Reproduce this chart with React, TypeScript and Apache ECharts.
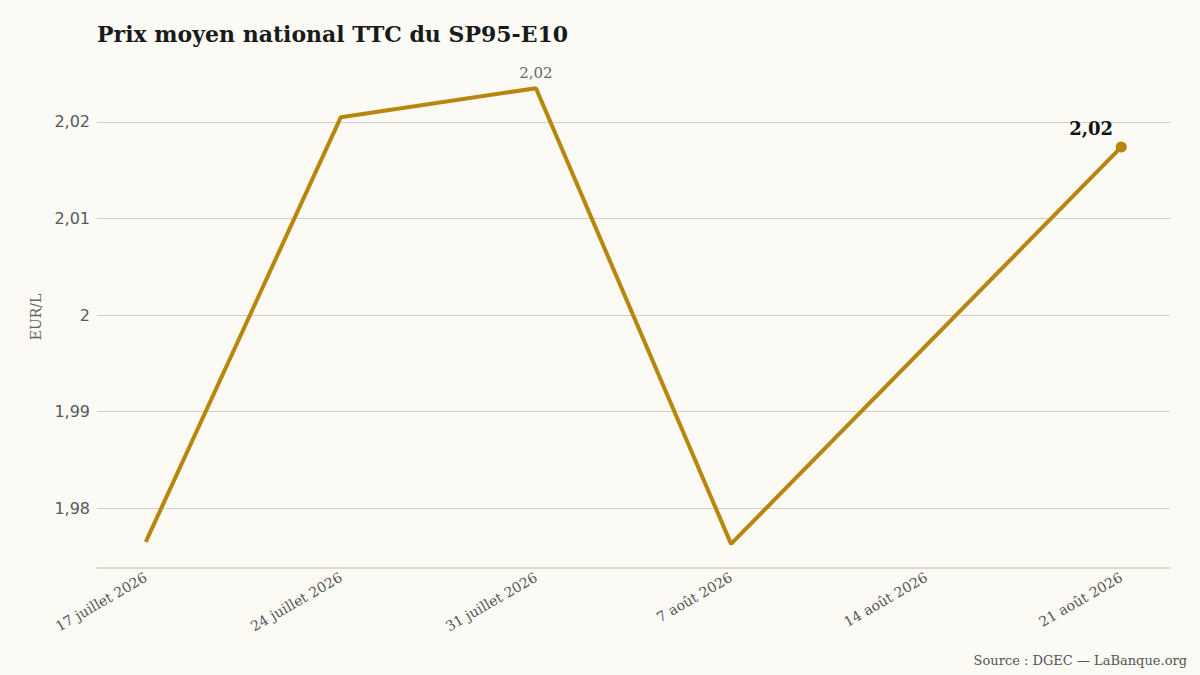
import * as echarts from "echarts";
import { useEffect, useRef } from "react";

// Prix moyen national TTC du SP95-E10 (EUR/L), relevés hebdomadaires
const DATES = ["2026-07-17", "2026-07-24", "2026-07-31", "2026-08-07", "2026-08-21"];
const PRIX = [1.9765, 2.0205, 2.0235, 1.9763, 2.0174];

const TICK_DATES = ["2026-07-17", "2026-07-24", "2026-07-31", "2026-08-07", "2026-08-14", "2026-08-21"];
const Y_TICKS = [1.98, 1.99, 2.0, 2.01, 2.02];
const MOIS = [
  "janvier", "février", "mars", "avril", "mai", "juin",
  "juillet", "août", "septembre", "octobre", "novembre", "décembre",
];

const TITRE = "Prix moyen national TTC du SP95-E10";
const SOURCE = "Source : DGEC — LaBanque.org";

const GOLD = "#b8860b";
const BG = "#fbfaf4";
const GRID = "#d3cfc3";
const SERIF = "'DejaVu Serif', 'Liberation Serif', serif";
const SANS = "'DejaVu Sans', 'Noto Sans', sans-serif";
const DAY = 86400000;

const toTime = (s: string) => {
  const [y, m, d] = s.split("-").map(Number);
  return new Date(y, m - 1, d).getTime();
};

const T0 = toTime(DATES[0]);
// x en jours depuis le premier relevé
const toDay = (s: string) => Math.round((toTime(s) - T0) / DAY);

const frNum = (v: number) => String(+v.toFixed(2)).replace(".", ",");

const frDate = (day: number) => {
  const d = new Date(T0 + Math.round(day) * DAY);
  return `${d.getDate()} ${MOIS[d.getMonth()]} ${d.getFullYear()}`;
};

export default function App() {
  const ref = useRef<HTMLDivElement>(null);

  useEffect(() => {
    const chart = echarts.init(ref.current!, null, { renderer: "svg" });

    const days = DATES.map(toDay);
    const span = days[days.length - 1] - days[0];
    const maxIdx = PRIX.indexOf(Math.max(...PRIX));
    const last = PRIX.length - 1;

    const data = PRIX.map((v, i) => {
      const item: any = { value: [days[i], v] };
      if (i === maxIdx) {
        item.label = {
          show: true,
          position: "top",
          distance: 8,
          fontFamily: SERIF,
          fontSize: 15,
          color: "#666",
          formatter: () => frNum(v),
        };
      }
      if (i === last) {
        item.symbolSize = 11;
        item.label = {
          show: true,
          position: "top",
          distance: 4,
          offset: [-30, 0],
          fontFamily: SERIF,
          fontSize: 18,
          fontWeight: "bold",
          color: "#111",
          formatter: () => frNum(v),
        };
      }
      return item;
    });

    chart.setOption({
      animation: false,
      backgroundColor: BG,
      title: {
        text: TITRE,
        left: 97,
        top: 23,
        padding: 0,
        textStyle: {
          fontFamily: SERIF,
          fontWeight: "bold",
          fontSize: 22,
          color: "#1a1a1a",
        },
      },
      grid: { left: 97, right: 30, top: 66, bottom: 107 },
      xAxis: {
        type: "value",
        min: days[0] - span * 0.05,
        max: days[days.length - 1] + span * 0.05,
        axisLine: { show: true, lineStyle: { color: GRID, width: 1.5 } },
        axisTick: { show: false, customValues: TICK_DATES.map(toDay) },
        splitLine: { show: false },
        axisLabel: {
          customValues: TICK_DATES.map(toDay),
          formatter: (v: number) => frDate(v),
          rotate: 30,
          margin: 8,
          fontFamily: SERIF,
          fontSize: 14,
          color: "#555",
          hideOverlap: false,
        },
      },
      yAxis: {
        type: "value",
        min: 1.9738,
        max: 2.0258,
        name: "EUR/L",
        nameLocation: "middle",
        nameRotate: 90,
        nameGap: 53,
        nameTextStyle: { fontFamily: SERIF, fontSize: 14, color: "#666" },
        axisLine: { show: false },
        axisTick: { show: false, customValues: Y_TICKS },
        splitLine: {
          show: true,
          showMinLine: true,
          showMaxLine: true,
          lineStyle: { color: GRID, width: 1.2 },
        },
        axisLabel: {
          customValues: Y_TICKS,
          formatter: (v: number) => frNum(v),
          margin: 7,
          fontFamily: SANS,
          fontSize: 16,
          color: "#595959",
        },
      },
      graphic: [
        {
          type: "text",
          right: 13,
          bottom: 8,
          style: {
            text: SOURCE,
            fontFamily: SERIF,
            fontSize: 13,
            fill: "#555",
          },
        },
      ],
      series: [
        {
          type: "line",
          data,
          symbol: "circle",
          symbolSize: 0,
          showSymbol: true,
          lineStyle: { color: GOLD, width: 4 },
          itemStyle: { color: GOLD },
          label: { show: false },
          emphasis: { disabled: true },
        },
      ],
    });

    return () => chart.dispose();
  }, []);

  return (
    <div
      ref={ref}
      style={{ position: "fixed", left: 0, top: 0, width: 1200, height: 675, background: BG }}
    />
  );
}
